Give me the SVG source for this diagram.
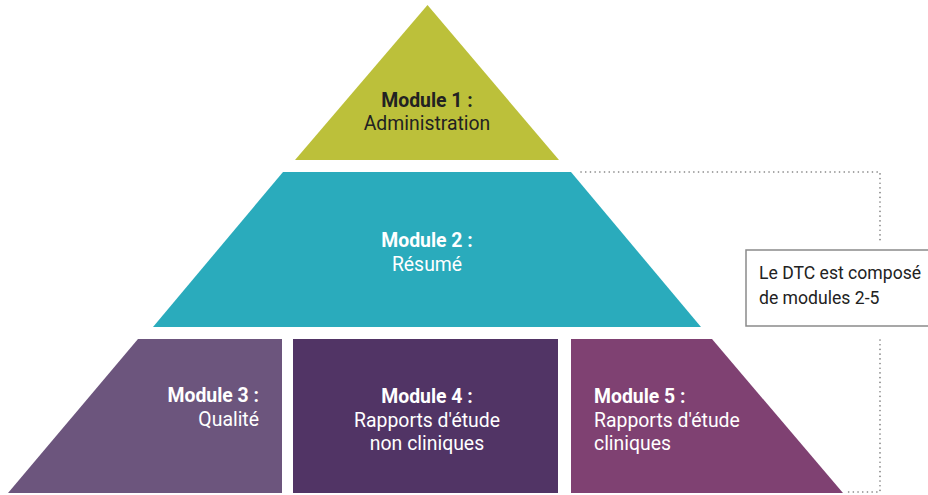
<svg xmlns="http://www.w3.org/2000/svg" width="928" height="495" viewBox="0 0 928 495">
<style>
.t{font-family:Roboto,"Liberation Sans",sans-serif;font-size:19.4px}
.n{font-size:17.6px}
.b{font-weight:bold}
.w{fill:#ffffff}
.d{fill:#222222}
.dot{fill:none;stroke:#7a7a7a;stroke-width:1.6;stroke-dasharray:0.1 4.6;stroke-linecap:round}
</style>
<rect width="928" height="495" fill="#ffffff"/>
<g id="connectors">
<path class="dot" d="M581 172 H880 V240"/>
<path class="dot" d="M880 340 V492 H845"/>
</g>
<g id="module1">
<polygon points="427.5,5 559,160 295,160" fill="#bcc03a"/>
<text class="t d b" x="427" y="107" text-anchor="middle">Module 1 :</text>
<text class="t d" x="427" y="130" text-anchor="middle">Administration</text>
</g>
<g id="module2">
<polygon points="283,172 571,172 701,327 153,327" fill="#2aabbc"/>
<text class="t w b" x="427" y="247" text-anchor="middle">Module 2 :</text>
<text class="t w" x="427" y="271" text-anchor="middle">Résumé</text>
</g>
<g id="module3">
<polygon points="138,339 282,339 282,493 8,493" fill="#6c557d"/>
<text class="t w b" x="259" y="402" text-anchor="end">Module 3 :</text>
<text class="t w" x="259" y="426" text-anchor="end">Qualité</text>
</g>
<g id="module4">
<rect x="293" y="339" width="265" height="154" fill="#513465"/>
<text class="t w b" x="427" y="403" text-anchor="middle">Module 4 :</text>
<text class="t w" x="427" y="427" text-anchor="middle">Rapports d'étude</text>
<text class="t w" x="427" y="450" text-anchor="middle">non cliniques</text>
</g>
<g id="module5">
<polygon points="571,339 712,339 843,493 571,493" fill="#7f4172"/>
<text class="t w b" x="594" y="403">Module 5 :</text>
<text class="t w" x="594" y="427">Rapports d'étude</text>
<text class="t w" x="594" y="450">cliniques</text>
</g>
<g id="note">
<rect x="746" y="250" width="190" height="76" fill="#ffffff" stroke="#8a8a8a" stroke-width="1.5"/>
<text class="t d n" x="759" y="279">Le DTC est composé</text>
<text class="t d n" x="759" y="304">de modules 2-5</text>
</g>
</svg>
